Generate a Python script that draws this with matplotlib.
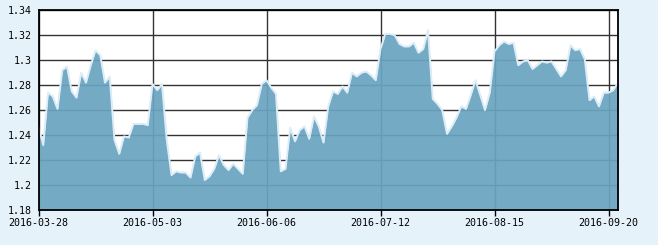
import numpy as np
import pandas as pd
import matplotlib.pyplot as plt
from matplotlib.ticker import FixedLocator, FuncFormatter

# 交易日 (2016-03-28 .. 2016-09-22), 节假日休市
holidays = ['2016-04-04', '2016-05-02', '2016-06-09', '2016-06-10',
            '2016-09-15', '2016-09-16']
start_date = '2016-03-28'
end_date = '2016-09-22'

# 净值
values = [1.247, 1.232, 1.274, 1.271, 1.261, 1.292, 1.295, 1.275, 1.270, 1.290,
          1.282, 1.296, 1.308, 1.304, 1.282, 1.287, 1.236, 1.225, 1.239, 1.238,
          1.249, 1.249, 1.249, 1.248, 1.281, 1.276, 1.281, 1.236, 1.208, 1.211,
          1.210, 1.210, 1.206, 1.223, 1.226, 1.204, 1.207, 1.213, 1.224, 1.216,
          1.212, 1.217, 1.213, 1.209, 1.254, 1.260, 1.264, 1.281, 1.284, 1.278,
          1.273, 1.211, 1.213, 1.246, 1.235, 1.244, 1.247, 1.237, 1.255, 1.247,
          1.234, 1.263, 1.275, 1.273, 1.279, 1.274, 1.290, 1.287, 1.290, 1.291,
          1.288, 1.284, 1.309, 1.321, 1.321, 1.320, 1.313, 1.311, 1.311, 1.314,
          1.306, 1.309, 1.324, 1.269, 1.265, 1.260, 1.241, 1.247, 1.254, 1.263,
          1.261, 1.272, 1.284, 1.272, 1.260, 1.274, 1.307, 1.312, 1.315, 1.313,
          1.314, 1.296, 1.299, 1.300, 1.293, 1.296, 1.299, 1.298, 1.299, 1.293,
          1.287, 1.292, 1.312, 1.308, 1.309, 1.301, 1.268, 1.271, 1.263, 1.274,
          1.274, 1.276, 1.282]

y_ticks = [1.18, 1.20, 1.22, 1.24, 1.26, 1.28, 1.30, 1.32, 1.34]
tick_step = 24

dates = pd.bdate_range(start_date, end_date, freq='C', holidays=holidays)
dates = dates[:len(values)]
x = np.arange(len(values))

bg = '#e6f2fa'
fig = plt.figure(figsize=(6.58, 2.45), dpi=100, facecolor=bg)
ax = fig.add_axes([38.5 / 658, 35 / 245, 579.5 / 658, 199.7 / 245])
ax.set_facecolor('white')

ax.fill_between(x, 1.18, values, color='#6ba4c1', alpha=0.93, lw=0, zorder=3)
ax.plot(x, values, color='#dcedf8', lw=1.4, zorder=4)

ax.set_xlim(0, len(values) - 1)
ax.set_ylim(1.18, 1.34)

xt = list(range(0, len(values), tick_step))
ax.xaxis.set_major_locator(FixedLocator(xt))
ax.set_xticklabels([dates[i].strftime('%Y-%m-%d') for i in xt])
ax.yaxis.set_major_locator(FixedLocator(y_ticks))
ax.yaxis.set_major_formatter(FuncFormatter(lambda v, p: '%g' % round(v, 2)))

ax.grid(True, color='#333333', lw=1.0, zorder=1)
ax.set_axisbelow(True)
for s in ax.spines.values():
    s.set_color('black')
    s.set_linewidth(1.3)
    s.set_zorder(5)

ax.tick_params(axis='x', length=4, width=1, color='black', pad=2,
               labelsize=7.2, labelcolor='black')
ax.tick_params(axis='y', length=0, pad=5, labelsize=7.2, labelcolor='black')
for lab in ax.get_xticklabels() + ax.get_yticklabels():
    lab.set_family('DejaVu Sans Mono')

fig.savefig('out.png', dpi=100, facecolor=bg)
